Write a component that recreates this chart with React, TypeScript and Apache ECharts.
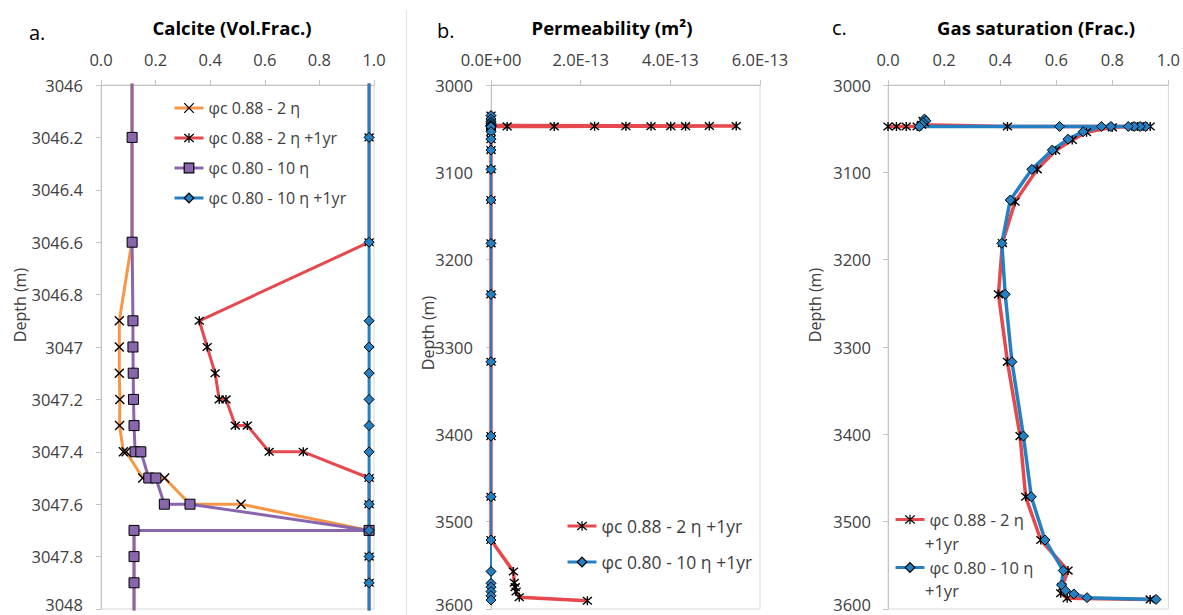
import React, { useEffect, useRef } from "react";
import * as echarts from "echarts";

type Pt = [number, number];

// ---------- Panel a: Calcite (Vol.Frac.) vs depth (m): [calcite, depth] ----------
const calcite088_2eta: Pt[] = [
  [0.113, 3045.0], [0.113, 3046.2], [0.113, 3046.6], [0.067, 3046.9], [0.067, 3047.0],
  [0.067, 3047.1], [0.069, 3047.2], [0.068, 3047.3], [0.082, 3047.4], [0.092, 3047.4],
  [0.153, 3047.5], [0.233, 3047.5], [0.326, 3047.6], [0.513, 3047.6], [0.982, 3047.7],
  [0.121, 3047.7], [0.121, 3047.8], [0.121, 3047.9], [0.121, 3053.5],
];
const calcite088_2eta_1yr: Pt[] = [
  [0.982, 3045.0], [0.982, 3046.2], [0.982, 3046.6], [0.36, 3046.9], [0.389, 3047.0],
  [0.418, 3047.1], [0.433, 3047.2], [0.458, 3047.2], [0.492, 3047.3], [0.536, 3047.3],
  [0.616, 3047.4], [0.741, 3047.4], [0.982, 3047.5], [0.982, 3047.6], [0.982, 3047.7],
  [0.982, 3047.8], [0.982, 3047.9], [0.982, 3053.5],
];
const calcite080_10eta: Pt[] = [
  [0.114, 3045.0], [0.114, 3046.2], [0.114, 3046.6], [0.117, 3046.9], [0.117, 3047.0],
  [0.118, 3047.1], [0.119, 3047.2], [0.121, 3047.3], [0.125, 3047.4], [0.146, 3047.4],
  [0.175, 3047.5], [0.201, 3047.5], [0.232, 3047.6], [0.326, 3047.6], [0.982, 3047.7],
  [0.121, 3047.7], [0.121, 3047.8], [0.121, 3047.9], [0.121, 3053.5],
];
const calcite080_10eta_1yr: Pt[] = [
  [0.982, 3045.0], [0.982, 3046.2], [0.982, 3046.6], [0.982, 3046.9], [0.982, 3047.0],
  [0.982, 3047.1], [0.982, 3047.2], [0.982, 3047.3], [0.982, 3047.4], [0.982, 3047.5],
  [0.982, 3047.6], [0.982, 3047.7], [0.982, 3047.8], [0.982, 3047.9], [0.982, 3053.5],
];

// ---------- Panel b: Permeability, in units of 1e-13 m²: [perm, depth] ----------
const perm088_2eta_1yr: Pt[] = [
  [0, 3035], [0, 3039], [0, 3042], [0, 3044], [0, 3046.2], [0, 3046.6],
  [5.47, 3046.9], [4.87, 3047.0], [4.34, 3047.1], [4.01, 3047.2], [3.57, 3047.2],
  [3.01, 3047.3], [2.31, 3047.3], [1.41, 3047.4], [0.36, 3047.4],
  [0, 3047.5], [0, 3047.6], [0, 3047.7], [0, 3047.8], [0, 3047.9],
  [0, 3053.5], [0, 3062], [0, 3074.5], [0, 3096.6], [0, 3131.7], [0, 3181.3],
  [0, 3239.7], [0, 3316.9], [0, 3402], [0, 3471.5], [0, 3521],
  [0.5, 3557], [0.52, 3570], [0.54, 3575], [0.56, 3580], [0.63, 3586.5], [2.15, 3590.5],
];
const perm080_10eta_1yr: Pt[] = [
  [0, 3035], [0, 3039], [0, 3042], [0, 3044], [0, 3046.2], [0, 3046.6], [0, 3047.0],
  [0, 3047.5], [0, 3047.9], [0, 3053.5], [0, 3062], [0, 3074.5], [0, 3096.6],
  [0, 3131.7], [0, 3181.3], [0, 3239.7], [0, 3316.9], [0, 3402], [0, 3471.5],
  [0, 3521], [0, 3557], [0, 3570.6], [0, 3575], [0, 3580], [0, 3584.8], [0, 3589.7],
];

// ---------- Panel c: Gas saturation (Frac.): [saturation, depth] ----------
const gas088_2eta_1yr: Pt[] = [
  [0.0, 3047.5], [0.03, 3047.5], [0.065, 3047.5], [0.104, 3047.5], [0.125, 3041],
  [0.13, 3043], [0.12, 3045.5], [0.426, 3047.5], [0.935, 3047.5], [0.91, 3047.5],
  [0.89, 3047.5], [0.87, 3047.5], [0.8, 3048.5], [0.708, 3054], [0.657, 3063],
  [0.598, 3075], [0.532, 3096.6], [0.453, 3133.7], [0.408, 3181], [0.394, 3239.7],
  [0.426, 3317], [0.471, 3402], [0.491, 3471.5], [0.545, 3521], [0.642, 3556],
  [0.62, 3575], [0.616, 3582], [0.639, 3587.6], [0.935, 3589],
];
const gas080_10eta_1yr: Pt[] = [
  [0.13, 3039], [0.135, 3041], [0.125, 3043], [0.12, 3045], [0.112, 3047.5],
  [0.612, 3047.5], [0.919, 3047.5], [0.899, 3047.5], [0.878, 3047.5], [0.857, 3047.5],
  [0.795, 3047.5], [0.761, 3047.5], [0.696, 3053.5], [0.642, 3062], [0.586, 3074.5],
  [0.513, 3096.6], [0.436, 3131.7], [0.406, 3181.3], [0.418, 3239.7], [0.442, 3316.9],
  [0.483, 3402], [0.511, 3471.5], [0.56, 3521], [0.625, 3556], [0.619, 3572.5],
  [0.633, 3579], [0.663, 3582.8], [0.71, 3587], [0.956, 3589],
];

// ---------- names, titles, axis ranges ----------
const seriesNames = ["φc 0.88 - 2 η", "φc 0.88 - 2 η +1yr", "φc 0.80 - 10 η", "φc 0.80 - 10 η +1yr"];
const panelTitles = ["Calcite (Vol.Frac.)", "Permeability (m²)", "Gas saturation (Frac.)"];
const panelLetters = ["a.", "b.", "c."];
const depthAxisName = "Depth (m)";
const calciteDepthRange = [3046, 3048, 0.2];
const wellDepthRange = [3000, 3600, 100];
const fracRange = [0, 1, 0.2];
const permRange = [0, 6, 2]; // ×1e-13 m²

const FONT = "'Open Sans', 'Noto Sans', sans-serif";
const TXT = "#404040";
const GRAY = "#C4C4C4";
const C_ORANGE = "#F79646";
const C_RED = "#E5484D";
const C_PURPLE = "#8A66AE";
const C_BLUE = "#2580C3";
const SYM_X = "path://M0 0L10 10M10 0L0 10";
const SYM_AST = "path://M0.8 0.8L9.2 9.2M9.2 0.8L0.8 9.2M5 0L5 10";
const TICK_FS = 16.5;

const fmtExp = (v: number) => {
  if (v === 0) return "0.0E+00";
  const e = Math.floor(Math.log10(Math.abs(v)) + 1e-9);
  const m = v / Math.pow(10, e);
  return m.toFixed(1) + "E" + (e < 0 ? "-" : "+") + String(Math.abs(e)).padStart(2, "0");
};

const grids = [
  { left: 101, top: 85, width: 273, height: 524 },
  { left: 491, top: 85, width: 269, height: 524 },
  { left: 888, top: 85, width: 282, height: 524 },
];

function xAxisCfg(gridIndex: number, r: number[], formatter: (v: number) => string) {
  return {
    type: "value", gridIndex, position: "top", min: r[0], max: r[1], interval: r[2],
    axisLine: { show: true, onZero: false, lineStyle: { color: GRAY, width: 1 } },
    axisTick: { show: true, inside: false, length: 5, lineStyle: { color: GRAY } },
    splitLine: { show: false },
    axisLabel: { show: true, margin: 17, color: TXT, fontSize: TICK_FS, fontFamily: FONT, formatter },
  };
}
function yAxisCfg(gridIndex: number, r: number[], margin: number) {
  return {
    type: "value", gridIndex, inverse: true, min: r[0], max: r[1], interval: r[2],
    axisLine: { show: true, onZero: false, lineStyle: { color: GRAY, width: 1 } },
    axisTick: { show: true, inside: false, length: 5, lineStyle: { color: GRAY } },
    splitLine: { show: false },
    axisLabel: {
      show: true, margin, color: TXT, fontSize: TICK_FS, fontFamily: FONT,
      formatter: (v: number) => {
        const s = String(Math.round(v * 10) / 10);
        return Math.abs(v - r[1]) < 1e-9 ? `{last|${s}}` : s;
      },
      rich: {
        last: { color: TXT, fontSize: TICK_FS, fontFamily: FONT, padding: [0, 0, 9, 0] },
      },
    },
  };
}

function line(name: string, data: Pt[], idx: number, color: string, symbol: string,
  size: number, fill: string, width: number, borderWidth: number) {
  return {
    type: "line", name, data, xAxisIndex: idx, yAxisIndex: idx, clip: true,
    symbol, symbolSize: size, showSymbol: true,
    lineStyle: { color, width },
    itemStyle: { color: fill, borderColor: "#000", borderWidth },
    emphasis: { disabled: true },
  };
}

function txt(x: number, y: number, text: string, font: string, align: string, fill = "#000", rotation = 0) {
  return {
    type: "text", x, y, rotation, silent: true,
    style: {
      text, font, fill, textAlign: align, align, textVerticalAlign: "middle", verticalAlign: "middle",
    },
  };
}

export default function App() {
  const ref = useRef<HTMLDivElement>(null);
  useEffect(() => {
    if (!ref.current) return;
    const chart = echarts.init(ref.current, null, { renderer: "svg" });
    const legendBase = {
      orient: "vertical", padding: 0, itemWidth: 29, itemHeight: 12, selectedMode: false,
      itemStyle: { borderWidth: 1.2 }, lineStyle: { width: 3 },
    };
    chart.setOption({
      animation: false,
      grid: grids.map((g) => ({ ...g, show: true, borderColor: "#D9D9D9", borderWidth: 1, containLabel: false })),
      xAxis: [
        xAxisCfg(0, fracRange, (v) => v.toFixed(1)),
        xAxisCfg(1, permRange, (v) => fmtExp(v * 1e-13)),
        xAxisCfg(2, fracRange, (v) => v.toFixed(1)),
      ],
      yAxis: [
        yAxisCfg(0, calciteDepthRange, 18),
        yAxisCfg(1, wellDepthRange, 18),
        yAxisCfg(2, wellDepthRange, 17),
      ],
      legend: [
        { ...legendBase, data: seriesNames, left: 173, top: 100, itemGap: 14,
          textStyle: { fontSize: 16, color: TXT, fontFamily: FONT } },
        { ...legendBase, data: [seriesNames[1], seriesNames[3]], left: 566, top: 517, itemGap: 18,
          textStyle: { fontSize: 17.5, color: TXT, fontFamily: FONT } },
        { ...legendBase, data: [seriesNames[1], seriesNames[3]], left: 894, top: 511, itemGap: 31,
          formatter: (n: string) => n.replace(" +1yr", ""),
          textStyle: { fontSize: 16.5, color: TXT, fontFamily: FONT } },
      ],
      series: [
        line(seriesNames[0], calcite088_2eta, 0, C_ORANGE, SYM_X, 9, "#000", 3, 1.4),
        line(seriesNames[1], calcite088_2eta_1yr, 0, C_RED, SYM_AST, 9, "#000", 3, 1.4),
        line(seriesNames[2], calcite080_10eta, 0, C_PURPLE, "rect", 10, C_PURPLE, 3, 1),
        line(seriesNames[3], calcite080_10eta_1yr, 0, C_BLUE, "diamond", 10, C_BLUE, 3, 1),
        line(seriesNames[1], perm088_2eta_1yr, 1, C_RED, SYM_AST, 9, "#000", 3.5, 1.4),
        line(seriesNames[3], perm080_10eta_1yr, 1, C_BLUE, "diamond", 10, C_BLUE, 2, 1),
        line(seriesNames[1], gas088_2eta_1yr, 2, C_RED, SYM_AST, 9, "#000", 3.5, 1.4),
        line(seriesNames[3], gas080_10eta_1yr, 2, C_BLUE, "diamond", 10, C_BLUE, 3.5, 1),
      ],
      graphic: [
        { type: "line", silent: true, shape: { x1: 406.5, y1: 10, x2: 406.5, y2: 615 },
          style: { stroke: "#E3E3E3", lineWidth: 1 } },
        txt(29, 32, panelLetters[0], `20px ${FONT}`, "left"),
        txt(437, 30, panelLetters[1], `20px ${FONT}`, "left"),
        txt(832, 27, panelLetters[2], `20px ${FONT}`, "left"),
        txt(232, 27, panelTitles[0], `bold 18.5px ${FONT}`, "center"),
        txt(612, 27, panelTitles[1], `bold 18.5px ${FONT}`, "center"),
        txt(1036, 27, panelTitles[2], `bold 18.5px ${FONT}`, "center"),
        txt(20, 305, depthAxisName, `16px ${FONT}`, "center", TXT, Math.PI / 2),
        txt(428, 333, depthAxisName, `16px ${FONT}`, "center", TXT, Math.PI / 2),
        txt(815, 305, depthAxisName, `16px ${FONT}`, "center", TXT, Math.PI / 2),
        txt(925, 543, "+1yr", `16.5px ${FONT}`, "left", TXT),
        txt(925, 590, "+1yr", `16.5px ${FONT}`, "left", TXT),
      ],
    });
    return () => chart.dispose();
  }, []);
  return <div ref={ref} style={{ position: "absolute", left: 0, top: 0, width: 1183, height: 615 }} />;
}
